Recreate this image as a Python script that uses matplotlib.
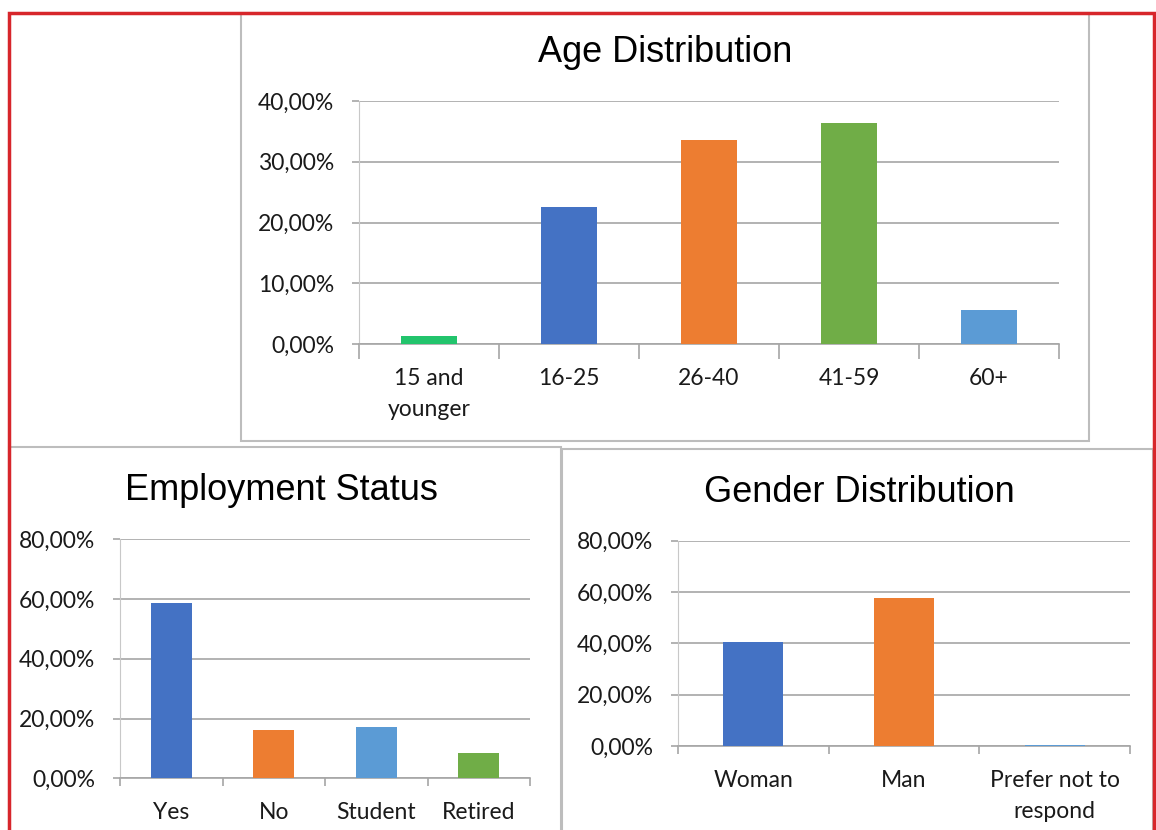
import matplotlib.pyplot as plt
import numpy as np
from matplotlib.patches import Rectangle
from matplotlib.ticker import FuncFormatter

# data
age_cats = ["15 and\nyounger", "16-25", "26-40", "41-59", "60+"]
age_vals = [1.36, 22.52, 33.59, 36.43, 5.59]
age_cols = ["#22C46C", "#4472C4", "#ED7D31", "#70AD47", "#5B9BD5"]

emp_cats = ["Yes", "No", "Student", "Retired"]
emp_vals = [58.6, 16.2, 17.3, 8.6]
emp_cols = ["#4472C4", "#ED7D31", "#5B9BD5", "#70AD47"]

gen_cats = ["Woman", "Man", "Prefer not to\nrespond"]
gen_vals = [40.6, 57.8, 0.4]
gen_cols = ["#4472C4", "#ED7D31", "#5B9BD5"]

W, H = 1156, 830
GRID = "#A6A6A6"

plt.rcParams['font.family'] = ['Lato', 'DejaVu Sans']

fig = plt.figure(figsize=(W / 100, H / 100), dpi=100)


def px_box(x0, y0, x1, y1):
    return [x0 / W, 1 - y1 / H, (x1 - x0) / W, (y1 - y0) / H]


def frame(x0, y0, x1, y1, color, lw):
    b = px_box(x0, y0, x1, y1)
    fig.add_artist(Rectangle((b[0], b[1]), b[2], b[3], transform=fig.transFigure,
                             fill=False, edgecolor=color, lw=lw, clip_on=False))


def pct(v, pos):
    return ("%.2f%%" % v).replace(".", ",")


def draw(ax, cats, vals, cols, ymax, step, ticklen):
    x = np.arange(len(cats))
    ax.bar(x, vals, width=0.4, color=cols, zorder=3)
    ax.set_xlim(-0.5, len(cats) - 0.5)
    ax.set_ylim(0, ymax)
    ax.set_yticks(np.arange(0, ymax + step / 2, step))
    ax.yaxis.set_major_formatter(FuncFormatter(pct))
    ax.grid(axis='y', color=GRID, lw=1.2, zorder=0)
    ax.set_axisbelow(True)
    ax.spines['top'].set_visible(False)
    ax.spines['right'].set_visible(False)
    ax.spines['left'].set_color("#C8C8C8")
    ax.spines['bottom'].set_color(GRID)
    ax.spines['bottom'].set_linewidth(1.2)
    ax.set_xticks(x, cats)
    ax.set_xticks(np.arange(-0.5, len(cats)), minor=True)
    ax.tick_params(axis='x', which='major', length=0, pad=17, labelsize=16.5,
                   labelcolor="#1a1a1a")
    ax.tick_params(axis='x', which='minor', length=ticklen, color=GRID, width=1.2)
    ax.tick_params(axis='y', length=5, color=GRID, width=1.2, pad=13, labelsize=16.5,
                   labelcolor="#1a1a1a")
    for t in ax.get_xticklabels():
        t.set_linespacing(1.6)


# panel borders
frame(241, 13, 1089, 441, "#BDBDBD", 1.5)
frame(9, 447, 561, 845, "#BDBDBD", 1.5)
frame(562, 449, 1153, 845, "#BDBDBD", 1.5)
frame(9, 13, 1154, 845, "#D7262B", 2.5)

ax1 = fig.add_axes(px_box(359, 101, 1059, 344.3))
draw(ax1, age_cats, age_vals, age_cols, 40, 10, 11)
fig.text(665 / W, 1 - 61.7 / H, "Age Distribution", ha='center', va='baseline',
         fontsize=26, family='Liberation Sans')

ax2 = fig.add_axes(px_box(120, 539.3, 530, 778.3))
draw(ax2, emp_cats, emp_vals, emp_cols, 80, 20, 6)
fig.text(281 / W, 1 - 500 / H, "Employment Status", ha='center', va='baseline',
         fontsize=26, family='Liberation Sans')

ax3 = fig.add_axes(px_box(678, 540.7, 1130, 746))
draw(ax3, gen_cats, gen_vals, gen_cols, 80, 20, 6)
fig.text(859 / W, 1 - 501.7 / H, "Gender Distribution", ha='center', va='baseline',
         fontsize=26, family='Liberation Sans')

fig.savefig("out.png", dpi=100)
